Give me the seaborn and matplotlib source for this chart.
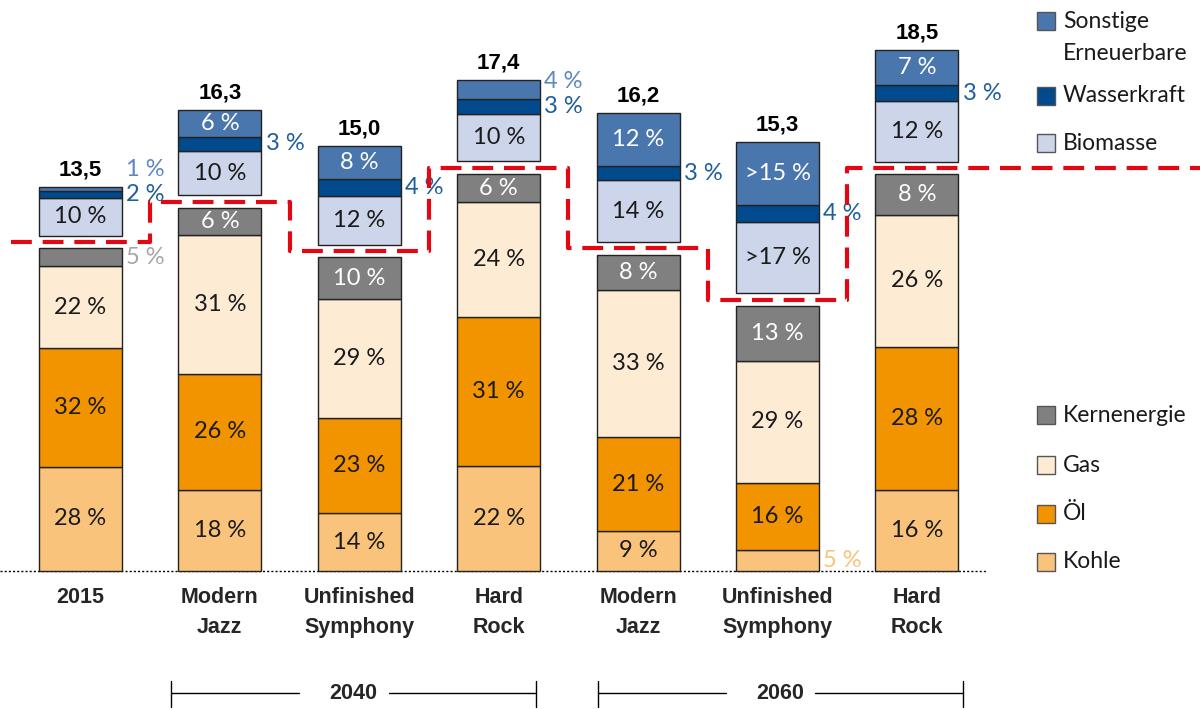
import numpy as np
import matplotlib
matplotlib.use('Agg')
import matplotlib.pyplot as plt
import seaborn as sns
from matplotlib.patches import Rectangle

sns.set_theme(style='white')
plt.rcParams['font.family'] = ['Lato', 'DejaVu Sans']

# Daten (Anteile in %, Gesamtverbrauch)
categories = ['2015', 'Modern\nJazz', 'Unfinished\nSymphony', 'Hard\nRock',
              'Modern\nJazz', 'Unfinished\nSymphony', 'Hard\nRock']
totals = [13.5, 16.3, 15.0, 17.4, 16.2, 15.3, 18.5]
groups = ['2040', '2060']
group_centers = [1.96, 5.02]

kohle = [28, 18, 14, 22, 9, 5, 16]
oel = [32, 26, 23, 31, 21, 16, 28]
gas = [22, 31, 29, 24, 33, 29, 26]
kern = [5, 6, 10, 6, 8, 13, 8]
biomasse = [10, 10, 12, 10, 14, 17, 12]
wasser = [2, 3, 4, 3, 3, 4, 3]
sonstige = [1, 6, 8, 4, 12, 15, 7]

# Sonderbeschriftungen (Unfinished Symphony 2060)
special_labels = {('Biomasse', 5): '>17 %', ('Sonstige', 5): '>15 %'}

fossil = [('Kohle', kohle, '#F9C37B', '#1a1a1a', '#F9C37B'),
          ('Öl', oel, '#F29400', '#1a1a1a', '#F29400'),
          ('Gas', gas, '#FDEBD4', '#1a1a1a', '#999999'),
          ('Kernenergie', kern, '#808080', 'white', '#A6A6A6')]
renew = [('Biomasse', biomasse, '#CCD5E9', '#1a1a1a', '#7F94BC'),
         ('Wasserkraft', wasser, '#004A8D', 'white', '#1F5E9E'),
         ('Sonstige', sonstige, '#4A76AE', 'white', '#5E88BF')]

fig = plt.figure(figsize=(12, 7.09), dpi=100)
ax = fig.add_axes([0, 0, 1, 1])
ax.set_xlim(-0.577, 8.03)
ax.set_ylim(-5.02, 20.76)
ax.axis('off')

x = np.arange(len(categories))
width = 0.595
gap = 0.45
totals_arr = np.array(totals)
lab_size = 17


def draw_stack(layers, base):
    bottom = base.copy()
    outside = [[] for _ in x]
    for name, vals, color, tcol, ocol in layers:
        h = np.array(vals) / 100 * totals_arr
        ax.bar(x, h, width=width, bottom=bottom, color=color,
               edgecolor='#222222', linewidth=1, zorder=2)
        for i in x:
            lab = special_labels.get((name, i), f'{vals[i]} %')
            yc = bottom[i] + h[i] / 2
            if h[i] > 0.8:
                ax.text(i, yc, lab, ha='center', va='center', color=tcol,
                        fontsize=lab_size, zorder=3)
            else:
                outside[i].append((yc, lab, ocol))
        bottom = bottom + h
    # Außenbeschriftungen, nach oben ausweichen wenn zu eng
    for i in x:
        prev = -99
        for yc, lab, ocol in outside[i]:
            y = max(yc, prev + 0.9)
            ax.text(i + width / 2 + 0.03, y, lab, ha='left', va='center',
                    color=ocol, fontsize=lab_size, zorder=3)
            prev = y
    return bottom


fossil_top = draw_stack(fossil, np.zeros(len(x)))
renew_top = draw_stack(renew, fossil_top + gap)

# Gesamtwerte
for i in x:
    ax.text(i, renew_top[i] + 0.62, f'{totals[i]:.1f}'.replace('.', ','),
            ha='center', va='center', fontsize=16, fontweight='bold',
            family=['Liberation Sans', 'DejaVu Sans'], color='black')

# rote Trennlinie fossil / erneuerbar
edges = list(np.r_[-0.5, x[:-1] + 0.5]) + [8.03]
yline = list(fossil_top + gap / 2) + [fossil_top[-1] + gap / 2]
ax.step(edges, yline, where='post', color='#E30613', lw=3,
        linestyle=(0, (5, 2.6)), zorder=4)

# Grundlinie
ax.plot([-0.577, 6.5], [0, 0], color='black', lw=1, linestyle=(0, (1.5, 1.5)), zorder=1)

# Kategorien
for i in x:
    ax.text(i, -0.58, categories[i], ha='center', va='top', fontsize=15.5,
            fontweight='bold', linespacing=1.6,
            family=['Liberation Sans', 'DejaVu Sans'])

# Jahresklammern
yb = -4.44
for g, c in zip(groups, group_centers):
    ax.plot([c - 1.31, c - 0.39], [yb, yb], color='black', lw=1)
    ax.plot([c + 0.25, c + 1.31], [yb, yb], color='black', lw=1)
    ax.plot([c - 1.31, c - 1.31], [yb + 0.42, yb - 0.5], color='black', lw=1)
    ax.plot([c + 1.31, c + 1.31], [yb + 0.42, yb - 0.5], color='black', lw=1)
    ax.text(c, yb, g, ha='center', va='center', fontsize=15.5, fontweight='bold',
            family=['Liberation Sans', 'DejaVu Sans'])

# Legende (manuell)
leg_top = [('Sonstige\nErneuerbare', '#4A76AE', 21),
           ('Wasserkraft', '#004A8D', 96),
           ('Biomasse', '#CCD5E9', 143)]
leg_bottom = [('Kernenergie', '#808080', 415),
              ('Gas', '#FDEBD4', 465),
              ('Öl', '#F29400', 514),
              ('Kohle', '#F9C37B', 562)]
W, H = 1200, 709
for name, color, py in leg_top + leg_bottom:
    ax.add_patch(Rectangle((1037 / W, 1 - (py + 9) / H), 18 / W, 18 / H,
                           transform=ax.transAxes, facecolor=color,
                           edgecolor='#555555', lw=1, zorder=5))
    for k, line in enumerate(name.split('\n')):
        ax.text(1063 / W, 1 - (py + 32 * k) / H, line, transform=ax.transAxes,
                ha='left', va='center', fontsize=16.5, color='#1a1a1a')

fig.savefig('out.png', dpi=100)
